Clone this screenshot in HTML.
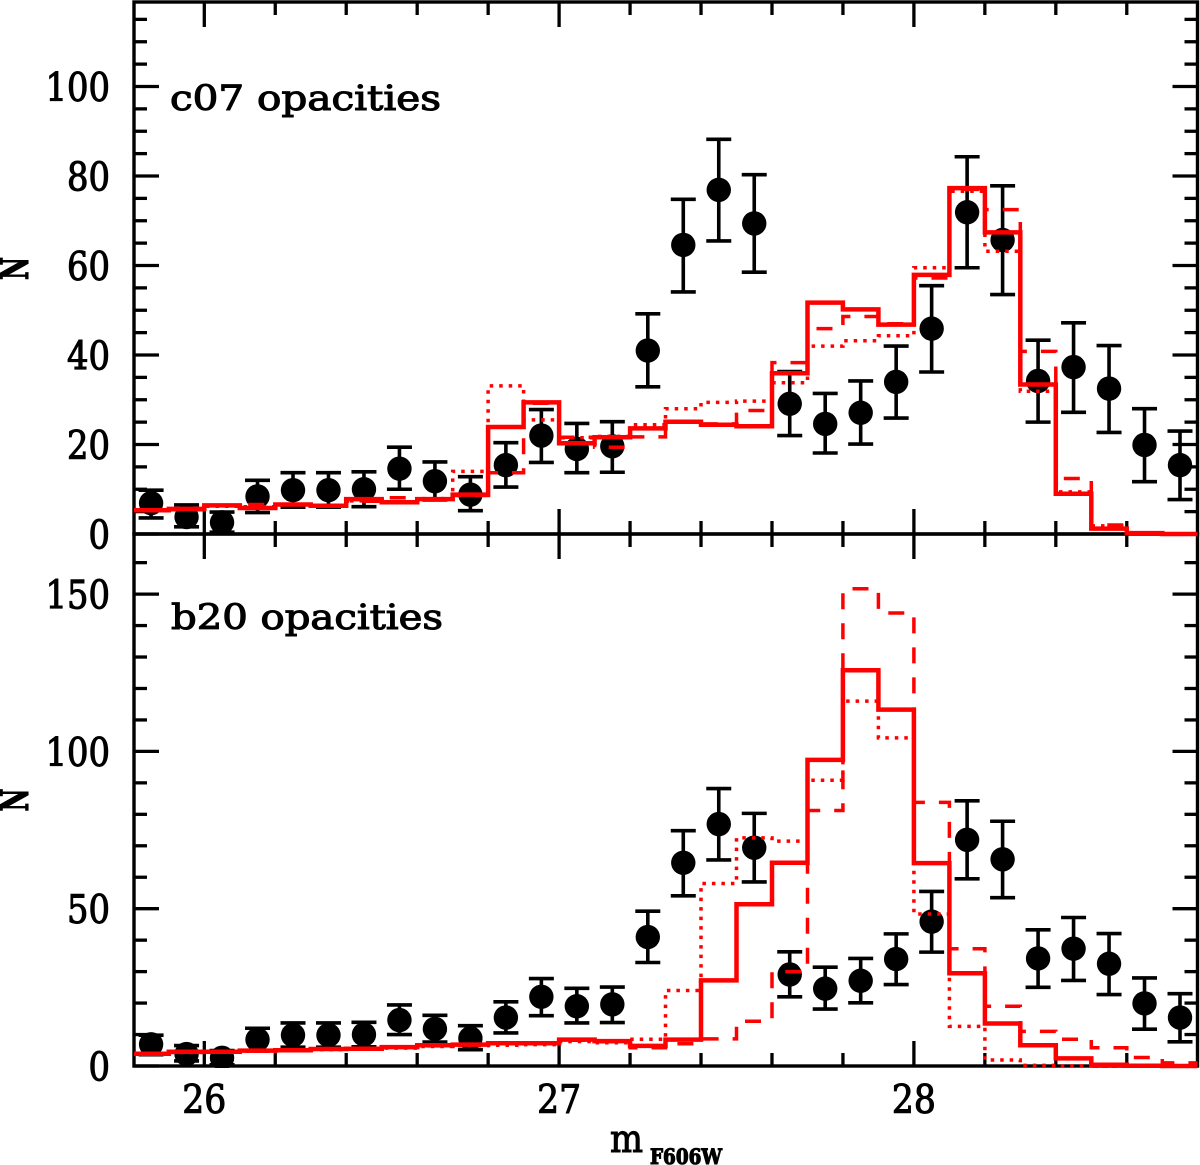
<!DOCTYPE html>
<html>
<head>
<meta charset="utf-8">
<title>Luminosity function histograms</title>
<style>
html,body{margin:0;padding:0;background:#fff;width:1200px;height:1165px;overflow:hidden}
svg{display:block}
text{font-family:"DejaVu Serif","Liberation Serif",serif;fill:#000;stroke:#000;stroke-width:1.1}
</style>
</head>
<body>
<svg id="chart" width="1200" height="1165" viewBox="0 0 1200 1165" xmlns="http://www.w3.org/2000/svg">
<defs>
<clipPath id="clip-top"><rect x="134" y="2" width="1064" height="534"/></clipPath>
<clipPath id="clip-bottom"><rect x="134" y="534" width="1064" height="534"/></clipPath>
</defs>
</svg>
<script>
// Observed counts (shared by both panels), bin centres and error-bar limits
const obsMag = [25.85,25.95,26.05,26.15,26.25,26.35,26.45,26.55,26.65,26.75,26.85,26.95,27.05,27.15,27.25,27.35,27.45,27.55,27.65,27.75,27.85,27.95,28.05,28.15,28.25,28.35,28.45,28.55,28.65,28.75];
const obsN = [6.9,3.8,2.6,8.4,9.8,9.8,10,14.6,11.8,8.8,15.4,22,19,19.6,41,64.6,76.9,69.4,29.1,24.6,27.1,34,45.9,71.9,65.7,34.2,37.3,32.5,19.9,15.4];
const obsHigh = [9.8,6.5,4.9,12,13.7,13.7,13.9,19.4,16.1,12.8,20.4,27.8,24.7,25.1,49.2,74.8,88.2,80.3,36.3,31.4,34.2,42,55.5,84.3,77.8,43.3,47.2,42.1,28,23];
const obsLow = [3.6,1.6,0.4,4.8,6,6,6.1,10,7.6,5.2,10.5,16,13.7,13.8,32.9,54.1,65.5,58.5,22,18.1,20.1,25.9,36.2,59.5,53.5,25,27.2,22.7,11.7,7.7];

// Histogram bin left edges
const binEdges = [25.8,25.9,26.0,26.1,26.2,26.3,26.4,26.5,26.6,26.7,26.8,26.9,27.0,27.1,27.2,27.3,27.4,27.5,27.6,27.7,27.8,27.9,28.0,28.1,28.2,28.3,28.4,28.5,28.6,28.7];

// Top panel (c07 opacities) model histograms
const c07Solid = [5.3,5.6,6.4,5.8,6.6,6.3,7.8,7.1,7.8,8.8,23.9,29.4,20.3,21.6,23.6,25.1,24.4,24.1,35.9,51.7,50.2,46.8,57.9,77.3,67.4,33.4,9,1.2,0.2,0];
const c07Dashed = [5.3,5.4,6.3,6.6,6.6,6.4,7.3,8.1,7.8,8.6,13.7,29.2,21.6,19.4,21.7,25,24.6,27.6,38.3,45.9,48.6,47,57.2,77,72.5,40.8,12.4,2,0.3,0];
const c07Dotted = [5.3,5.5,6.2,6.1,6.5,6.3,7.4,7.2,7.9,14,33.1,25.5,21.5,21.8,24.4,28,29.4,29.7,33.8,42,43.2,44.3,59.5,76.6,63.2,31.9,9.4,1.8,0.2,0];

// Bottom panel (b20 opacities) model histograms
const b20Solid = [3.9,4.5,4.5,4.9,5,5.4,5.5,6,6.6,6.8,7.2,7.2,8.4,7.9,6.4,8.4,27.2,51.4,64.6,97.3,125.8,113.3,64.5,29.5,13.5,6.6,2.4,0.4,0.1,0];
const b20Dashed = [3.9,4.4,4.5,4.8,5,5.3,5.5,5.9,6.4,6.9,7.3,7.1,8.2,7.7,5.8,7.1,8.6,14.2,30,81.2,151.7,144,83.8,37.3,19,11,8.5,5.8,2.7,1];
const b20Dotted = [3.9,4.3,4.4,4.7,4.9,5.2,5.4,5.7,6.2,6.5,6.6,6.8,7.8,7.4,8.5,24,58,72.5,71.5,90.8,116,104.3,48.3,12.6,1.9,0.2,0,0,0,0];

// Axis tick values and labels
const xMinorTicks = [26,26.2,26.4,26.6,26.8,27,27.2,27.4,27.6,27.8,28,28.2,28.4,28.6];
const xLabels = [26,27,28];
const topYTicks = [0,5,10,15,20,25,30,35,40,45,50,55,60,65,70,75,80,85,90,95,100,105,110,115];
const topYLabels = [0,20,40,60,80,100];
const bottomYTicks = [0,10,20,30,40,50,60,70,80,90,100,110,120,130,140,150,160];
const bottomYLabels = [0,50,100,150];

const NS = 'http://www.w3.org/2000/svg';
const svg = document.getElementById('chart');
const RED = '#ff0000';
const AX_L = 134, AX_R = 1197.5;

function xScale(m){ return 204.3 + (m - 26) * 354.8; }
function yTop(v){ return 534 - v * 4.475; }
function yBottom(v){ return 1066 - v * 3.146; }

function mk(tag, attrs, parent){
  const el = document.createElementNS(NS, tag);
  for (const k in attrs) el.setAttribute(k, attrs[k]);
  (parent || svg).appendChild(el);
  return el;
}
function seg(parent, x1, y1, x2, y2, w){
  return mk('line', {x1:x1, y1:y1, x2:x2, y2:y2, stroke:'#000', 'stroke-width':w}, parent);
}

function drawAxes(prefix, yScale, yTicks, yLabels, majorStep, yTopPx, yBottomPx){
  const g = mk('g', {});
  
  
  const frame = mk('rect', {x:AX_L, y:yTopPx, width:AX_R-AX_L, height:yBottomPx-yTopPx, fill:'none', stroke:'#000', 'stroke-width':3.4}, g);
  
  
  yTicks.forEach(function(v){
    const len = v % majorStep === 0 ? 25 : 13;
    const y = yScale(v);
    const a = seg(g, AX_L, y, AX_L + len, y, 3.3);
    
    
    const b = seg(g, AX_R, y, AX_R - len, y, 3.3);
    
    
  });
  xMinorTicks.forEach(function(m){
    const len = xLabels.indexOf(m) >= 0 ? 25 : 13;
    const x = xScale(m);
    const a = seg(g, x, yTopPx, x, yTopPx + len, 3.3);
    
    
    const b = seg(g, x, yBottomPx, x, yBottomPx - len, 3.3);
    
    
  });
  yLabels.forEach(function(v){
    const s = String(v);
    const t = mk('text', {x:110, y:yScale(v) + 14.5, 'text-anchor':'end', 'font-size':39, textLength:21.5 * s.length, lengthAdjust:'spacingAndGlyphs'}, g);
    
    
    t.textContent = s;
  });
}

function drawPoints(prefix, yScale, clipId){
  const g = mk('g', {'clip-path':'url(#' + clipId + ')'});
  
  
  obsMag.forEach(function(m, i){
    const x = xScale(m);
    const hi = yScale(obsHigh[i]), lo = yScale(obsLow[i]);
    const bar = mk('g', {}, g);
    
    
    seg(bar, x, hi, x, lo, 3.6);
    seg(bar, x - 12.5, hi, x + 12.5, hi, 3.6);
    seg(bar, x - 12.5, lo, x + 12.5, lo, 3.6);
    const c = mk('circle', {cx:x, cy:yScale(obsN[i]), r:12.2, fill:'#000'}, g);
    
    
  });
}

function drawHist(name, values, yScale, width, dash){
  let d = '';
  values.forEach(function(v, i){
    const x0 = Math.max(xScale(binEdges[i]), AX_L);
    const x1 = i + 1 < binEdges.length ? xScale(binEdges[i + 1]) : AX_R;
    const y = yScale(v).toFixed(1);
    d += (i === 0 ? 'M' : 'L') + x0.toFixed(1) + ' ' + y + 'L' + x1.toFixed(1) + ' ' + y;
  });
  const attrs = {d:d, fill:'none', stroke:RED, 'stroke-width':width, 'stroke-linejoin':'miter'};
  if (dash) attrs['stroke-dasharray'] = dash;
  const p = mk('path', attrs);
  
  
}

function label(name, str, x, y, size, len, anchor){
  const t = mk('text', {x:x, y:y, 'font-size':size});
  if (len) { t.setAttribute('textLength', len); t.setAttribute('lengthAdjust', 'spacingAndGlyphs'); }
  if (anchor) t.setAttribute('text-anchor', anchor);
  
  
  t.textContent = str;
  return t;
}

drawAxes('top-panel', yTop, topYTicks, topYLabels, 20, 2, 534);
drawAxes('bottom-panel', yBottom, bottomYTicks, bottomYLabels, 50, 534, 1066);

drawPoints('top-panel', yTop, 'clip-top');
drawPoints('bottom-panel', yBottom, 'clip-bottom');

drawHist('c07-dotted-histogram', c07Dotted, yTop, 3.5, '3.5 6');
drawHist('c07-dashed-histogram', c07Dashed, yTop, 3.5, '16 14');
drawHist('c07-solid-histogram', c07Solid, yTop, 4.5);
drawHist('b20-dotted-histogram', b20Dotted, yBottom, 3.5, '3.5 6');
drawHist('b20-dashed-histogram', b20Dashed, yBottom, 3.5, '16 14');
drawHist('b20-solid-histogram', b20Solid, yBottom, 4.5);

label('c07-panel-title', 'c07 opacities', 170, 110, 35, 271);
label('b20-panel-title', 'b20 opacities', 171, 629, 35, 272);

xLabels.forEach(function(m){
  label('x-tick-label', String(m), xScale(m), 1113, 39, 44, 'middle');
});

const yTitleTop = label('top-y-axis-title', 'N', 0, 0, 38, 23, 'middle');
yTitleTop.setAttribute('font-weight', 'bold');
yTitleTop.setAttribute('transform', 'translate(28 268.5) rotate(-90)');
const yTitleBottom = label('bottom-y-axis-title', 'N', 0, 0, 38, 23, 'middle');
yTitleBottom.setAttribute('font-weight', 'bold');
yTitleBottom.setAttribute('transform', 'translate(28 800) rotate(-90)');

label('x-axis-title-m', 'm', 610, 1152, 38, 33);
const filt = label('x-axis-title-filter', 'F606W', 650, 1164, 21, 72);
filt.setAttribute('font-weight', 'bold');
</script>
</body>
</html>
